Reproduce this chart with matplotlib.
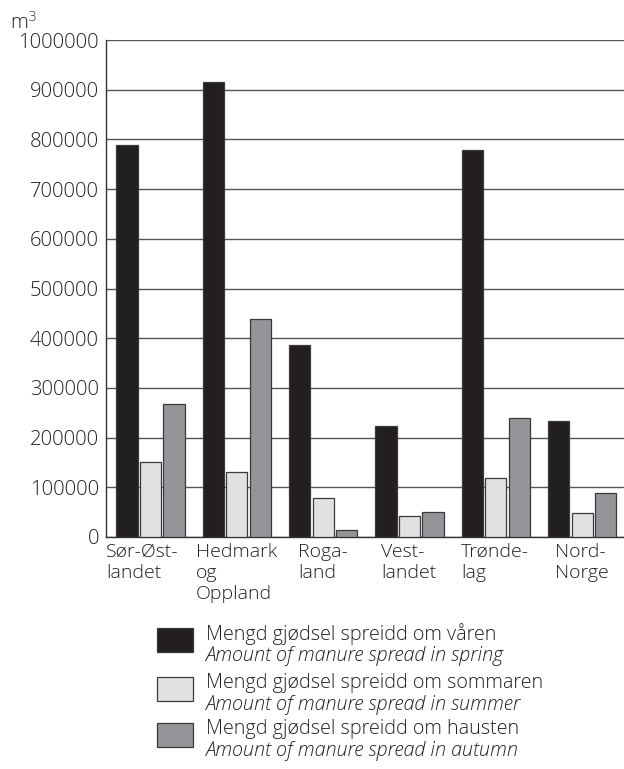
import matplotlib.pyplot as plt
from matplotlib.patches import Rectangle
import numpy as np

plt.rcParams['font.family'] = ['Open Sans', 'DejaVu Sans']
plt.rcParams['font.weight'] = 'light'

TEXT = '#231f20'
GRID = '#555555'

regions = ['Sør-Øst-\nlandet', 'Hedmark\nog\nOppland', 'Roga-\nland',
           'Vest-\nlandet', 'Trønde-\nlag', 'Nord-\nNorge']
spring = [789000, 915000, 386000, 223000, 778000, 234000]
summer = [150000, 130000, 78000, 43000, 118000, 48000]
autumn = [267000, 438000, 14000, 50000, 239000, 88000]

colors = ['#231f20', '#e0e1e2', '#939598']
labels_no = ['Mengd gjødsel spreidd om våren',
             'Mengd gjødsel spreidd om sommaren',
             'Mengd gjødsel spreidd om hausten']
labels_en = ['Amount of manure spread in spring',
             'Amount of manure spread in summer',
             'Amount of manure spread in autumn']

fig = plt.figure(figsize=(6.24, 7.69), dpi=100)
ax = fig.add_axes([106 / 624, 1 - 537 / 769, 1 - 106 / 624, 497 / 769])

x = np.arange(len(regions))
w = 0.245
step = 0.272
for i, vals in enumerate([spring, summer, autumn]):
    ax.bar(x + (i - 1) * step + 0.015, vals, width=w, color=colors[i],
           edgecolor='#3a3a3a', linewidth=0.9, zorder=3)

ax.set_ylim(0, 1000000)
ax.set_xlim(-0.5, 5.5)
ax.set_yticks(np.arange(0, 1000001, 100000))
ax.set_yticklabels([str(v) for v in range(0, 1000001, 100000)],
                   fontsize=14.6, color=TEXT)
ax.tick_params(axis='y', length=0, pad=5)
ax.yaxis.grid(True, color=GRID, linewidth=1.0, zorder=0)
ax.set_xticks([])
for s in ['top', 'right']:
    ax.spines[s].set_visible(False)
for s in ['left', 'bottom']:
    ax.spines[s].set_color('#333333')
    ax.spines[s].set_linewidth(1.0)

for xi, lab in zip(x, regions):
    shift = -0.08 if xi == 0 else 0.01
    ax.text(xi + shift, -12000, lab, ha='center', va='top', multialignment='left',
            fontsize=14, color=TEXT, linespacing=1.2)

fig.text(10 / 624, 1 - 29 / 769, 'm$^3$', fontsize=14.5, color=TEXT,
         ha='left', va='baseline')

# legend
rows = [640, 689, 735]
for i, yc in enumerate(rows):
    fig.add_artist(Rectangle((157 / 624, 1 - (yc + 12) / 769), 36 / 624, 24 / 769,
                             transform=fig.transFigure, facecolor=colors[i],
                             edgecolor='#3a3a3a', linewidth=0.9))
    fig.text(206 / 624, 1 - (yc - 6) / 769, labels_no[i], fontsize=14.25,
             color=TEXT, ha='left', va='center')
    fig.text(205 / 624, 1 - (yc + 16) / 769, labels_en[i], fontsize=14.25,
             color=TEXT, ha='left', va='center', style='italic')

fig.savefig('out.png', dpi=100)
